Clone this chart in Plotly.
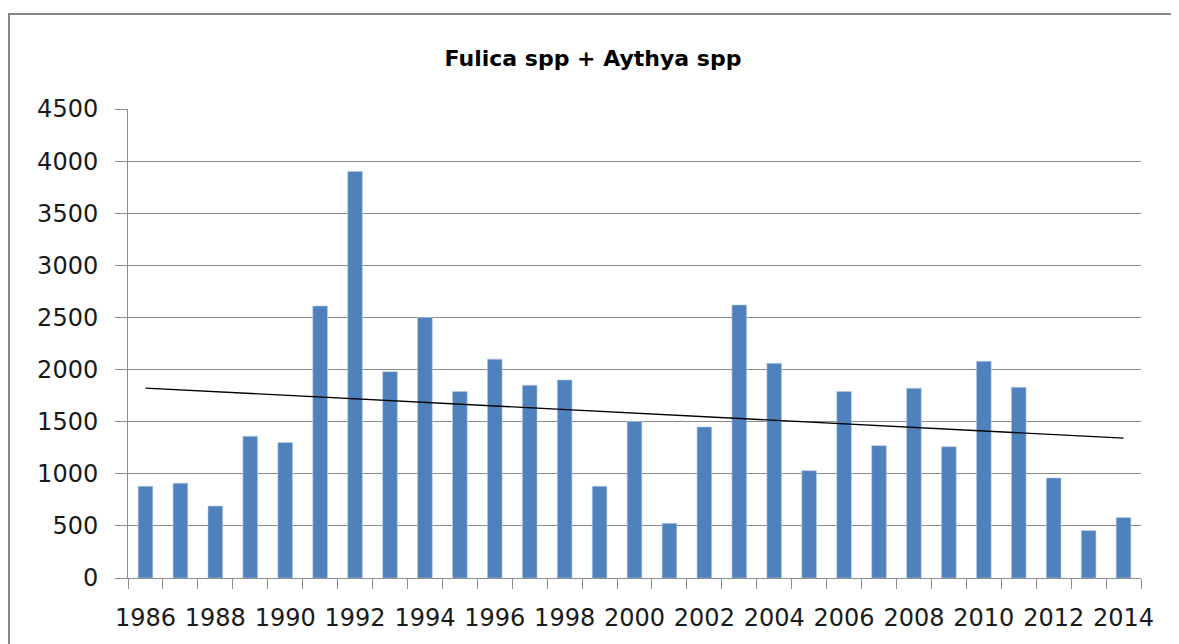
import numpy as np
import plotly.graph_objects as go

years = list(range(1986, 2015))
counts = [880, 910, 690, 1360, 1300, 2610, 3900, 1980, 2500, 1790,
          2100, 1850, 1900, 880, 1500, 525, 1450, 2620, 2060, 1030,
          1790, 1270, 1820, 1260, 2080, 1830, 960, 455, 580]
tick_years = list(range(1986, 2015, 2))
y_ticks = list(range(0, 4501, 500))
title_text = "Fulica spp + Aythya spp"

slope, intercept = np.polyfit(years, counts, 1)
trend_x = [years[0], years[-1]]
trend_y = [slope * x + intercept for x in trend_x]

# page body has an 8px margin, so the figure is offset by (8, 8)
OFF = 8
W, H = 1179 - OFF, 644 - OFF
L, T = 128 - OFF, 109 - OFF
R = W - (1141 - OFF)
B = H - (578 - OFF)
pw, ph = W - L - R, H - T - B

fig = go.Figure()
fig.add_trace(go.Bar(
    x=years, y=counts,
    marker=dict(color="#4F81BD", line=dict(color="#B9CDE5", width=0.6)),
    width=0.42, showlegend=False,
))
fig.add_trace(go.Scatter(
    x=trend_x, y=trend_y, mode="lines",
    line=dict(color="black", width=1.4), showlegend=False,
))

grid = "#8C8C8C"
fig.update_layout(
    width=W, height=H,
    margin=dict(l=L, r=R, t=T, b=B, autoexpand=False),
    paper_bgcolor="white", plot_bgcolor="white",
    font=dict(family="DejaVu Sans", color="#1a1a1a"),
    title=dict(text="<b>" + title_text + "</b>", x=(593 - OFF) / W, xanchor="center",
               y=1 - (58 - OFF) / H, yanchor="middle",
               font=dict(family="DejaVu Sans", size=22, color="black")),
    xaxis=dict(
        range=[1985.5, 2014.5],
        tickvals=tick_years, ticktext=[str(y) for y in tick_years],
        ticks="", showgrid=False,
        showline=True, linecolor=grid, linewidth=1,
        tickfont=dict(family="DejaVu Sans", size=24, color="#1a1a1a"),
        ticklabelstandoff=18,
        minor=dict(tick0=1985.5, dtick=1, ticks="outside", ticklen=10,
                   tickcolor=grid, tickwidth=1, showgrid=False),
        zeroline=False,
    ),
    yaxis=dict(
        range=[0, 4500], tickvals=y_ticks,
        showgrid=True, gridcolor=grid, gridwidth=1,
        showline=True, linecolor=grid, linewidth=1,
        ticks="outside", ticklen=12, tickcolor=grid,
        tickfont=dict(family="DejaVu Sans", size=24, color="#1a1a1a"),
        ticklabelstandoff=12,
        zeroline=False,
    ),
    shapes=[dict(
        type="rect", xref="paper", yref="paper",
        x0=(1 - L) / pw, x1=(W + 200 - L) / pw,
        y0=-0.5, y1=(H - B - (14 - OFF)) / ph,
        line=dict(color="#878787", width=2), fillcolor="rgba(0,0,0,0)",
        layer="below",
    )],
)

fig.write_html("out.html")
